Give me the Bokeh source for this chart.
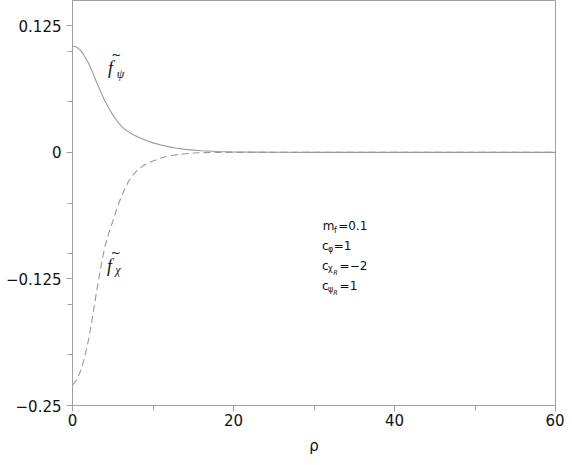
from bokeh.plotting import figure
from bokeh.models import Label, FixedTicker, Range1d
from bokeh.embed import file_html
from bokeh.resources import INLINE

# data
rho = [0, 0.5, 1, 1.5, 2, 2.5, 3, 3.5, 4, 4.5, 5, 5.5, 6, 6.5, 7, 7.5, 8, 9, 10, 11, 12, 13, 14, 15, 16, 18, 20, 25, 30, 40, 50, 60]
f_psi = [0.105, 0.104, 0.101, 0.095, 0.088, 0.079, 0.069, 0.060, 0.051, 0.044, 0.037, 0.0315, 0.0265, 0.0228, 0.0200, 0.0176,
         0.0156, 0.0122, 0.0094, 0.0072, 0.0054, 0.0041, 0.003, 0.0022, 0.0016, 0.0008, 0.0004, 0.0001, 0, 0, 0, 0]
f_chi = [-0.230, -0.225, -0.216, -0.203, -0.185, -0.162, -0.137, -0.114, -0.094, -0.080, -0.068, -0.056, -0.045, -0.036,
         -0.028, -0.0225, -0.018, -0.012, -0.0085, -0.0055, -0.0036, -0.0022, -0.0013, -0.0006, -0.0003, -0.0001, 0, 0, 0, 0, 0, 0]
y_major = [-0.25, -0.125, 0, 0.125]
y_minor = [-0.2, -0.15, -0.1, -0.05, 0.05, 0.1]
x_major = [0, 20, 40, 60]
x_minor = [10, 30, 50]

p = figure(width=564, height=457, output_backend="svg", toolbar_location=None,
           x_range=Range1d(0, 60), y_range=Range1d(-0.25, 0.15),
           min_border_left=72, min_border_right=9, min_border_top=0, min_border_bottom=49)
p.xgrid.visible = False
p.ygrid.visible = False
p.outline_line_color = "#a0a0a0"
p.background_fill_color = "white"
p.border_fill_color = "white"

p.line(rho, f_psi, line_color="#999999", line_width=1.1)
p.line(rho, f_chi, line_color="#999999", line_width=1.1, line_dash="7 4")

for ax in (p.xaxis[0], p.yaxis[0]):
    ax.axis_line_color = "#a0a0a0"
    ax.major_tick_line_color = "#a0a0a0"
    ax.minor_tick_line_color = "#a0a0a0"
    ax.major_tick_in = 0
    ax.minor_tick_in = 0
    ax.major_tick_out = 6
    ax.minor_tick_out = 5
    ax.major_label_text_font = "DejaVu Sans"
    ax.major_label_text_font_size = "15px"
    ax.major_label_text_color = "#111111"

p.yaxis.ticker = FixedTicker(ticks=y_major, minor_ticks=y_minor)
p.xaxis.ticker = FixedTicker(ticks=x_major, minor_ticks=x_minor)
p.yaxis.major_label_overrides = {-0.25: "\u22120.25", -0.125: "\u22120.125", 0: "0", 0.125: "0.125"}
p.yaxis.major_label_standoff = 5
p.xaxis.major_label_standoff = 2
p.xaxis.axis_label = "\u03c1"
p.xaxis.axis_label_text_font = "DejaVu Sans"
p.xaxis.axis_label_text_font_size = "15px"
p.xaxis.axis_label_text_font_style = "normal"
p.xaxis.axis_label_text_color = "#111111"
p.xaxis.axis_label_standoff = 8


def lab(x, y, t, size, font="DejaVu Sans", style="normal"):
    p.add_layout(Label(x=x, y=y, text=t, text_font=font, text_font_size=size, text_font_style=style,
                       text_color="#111111", text_baseline="alphabetic", text_align="left"))


# curve labels
lab(4.4, 0.0830, "f", "18px", "Liberation Serif", "italic")
lab(4.8, 0.0960, "~", "12px", "DejaVu Sans")
lab(5.5, 0.0775, "\u03c8", "12px", "Liberation Serif", "italic")
lab(4.3, -0.1125, "f", "18px", "Liberation Serif", "italic")
lab(4.75, -0.0990, "~", "12px", "DejaVu Sans")
lab(5.3, -0.1165, "\u03c7", "12px", "Liberation Serif", "italic")

# parameter annotation
lab(31.1, -0.0728, "m", "12px")
lab(32.47, -0.0767, "f", "8px")
lab(33.0, -0.0728, "=0.1", "12px")
lab(31.0, -0.0924, "c", "12px")
lab(31.75, -0.0963, "\u03c6", "8px")
lab(32.45, -0.0924, "=1", "12px")
lab(31.0, -0.1120, "c", "12px")
lab(31.75, -0.1149, "\u03c7", "8px")
lab(32.4, -0.1193, "R", "6.5px", style="italic")
lab(33.18, -0.1120, "=\u22122", "12px")
lab(31.0, -0.1315, "c", "12px")
lab(31.75, -0.1350, "\u03c8", "8px")
lab(32.4, -0.1389, "R", "6.5px", style="italic")
lab(33.18, -0.1315, "=1", "12px")

open("out.html", "w").write(file_html(p, INLINE))
